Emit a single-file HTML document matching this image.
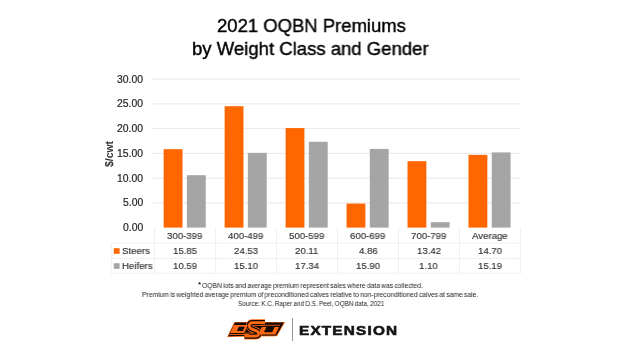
<!DOCTYPE html>
<html><head><meta charset="utf-8"><style>
html,body{margin:0;padding:0;background:#fff;}
body{width:625px;height:351px;position:relative;overflow:hidden;font-family:"Liberation Sans",sans-serif;color:#404040;}
.a{position:absolute;white-space:nowrap;}
.w{will-change:transform;}
#root{position:absolute;left:0;top:0;width:625px;height:351px;filter:blur(0.35px);}
</style></head><body><div id="root">
<svg class="a" style="left:0;top:0;" width="625" height="351" viewBox="0 0 625 351">
<rect x="152.3" y="202.35" width="368.10" height="1" fill="#e9e9e9"/>
<rect x="152.3" y="177.61" width="368.10" height="1" fill="#e9e9e9"/>
<rect x="152.3" y="152.87" width="368.10" height="1" fill="#e9e9e9"/>
<rect x="152.3" y="128.12" width="368.10" height="1" fill="#e9e9e9"/>
<rect x="152.3" y="103.38" width="368.10" height="1" fill="#e9e9e9"/>
<rect x="152.3" y="78.63" width="368.10" height="1" fill="#e9e9e9"/>
<rect x="163.65" y="149.16" width="18.85" height="78.44" fill="#FF6600"/>
<rect x="186.90" y="175.19" width="18.85" height="52.41" fill="#A5A5A5"/>
<rect x="224.62" y="106.20" width="18.85" height="121.40" fill="#FF6600"/>
<rect x="247.87" y="152.87" width="18.85" height="74.73" fill="#A5A5A5"/>
<rect x="285.58" y="128.08" width="18.85" height="99.52" fill="#FF6600"/>
<rect x="308.83" y="141.78" width="18.85" height="85.82" fill="#A5A5A5"/>
<rect x="346.55" y="203.55" width="18.85" height="24.05" fill="#FF6600"/>
<rect x="369.80" y="148.91" width="18.85" height="78.69" fill="#A5A5A5"/>
<rect x="407.52" y="161.18" width="18.85" height="66.42" fill="#FF6600"/>
<rect x="430.77" y="222.16" width="18.85" height="5.44" fill="#A5A5A5"/>
<rect x="468.48" y="154.85" width="18.85" height="72.75" fill="#FF6600"/>
<rect x="491.73" y="152.42" width="18.85" height="75.18" fill="#A5A5A5"/>
<rect x="111" y="242.60" width="409.40" height="1" fill="#efefef"/>
<rect x="111" y="257.90" width="409.40" height="1" fill="#efefef"/>
<rect x="111" y="272.70" width="409.40" height="1" fill="#efefef"/>
<rect x="110.8" y="243.10" width="1" height="30.10" fill="#efefef"/>
<rect x="154.10" y="227.60" width="1" height="45.60" fill="#efefef"/>
<rect x="215.07" y="227.60" width="1" height="45.60" fill="#efefef"/>
<rect x="276.03" y="227.60" width="1" height="45.60" fill="#efefef"/>
<rect x="337.00" y="227.60" width="1" height="45.60" fill="#efefef"/>
<rect x="397.97" y="227.60" width="1" height="45.60" fill="#efefef"/>
<rect x="458.93" y="227.60" width="1" height="45.60" fill="#efefef"/>
<rect x="519.90" y="227.60" width="1" height="45.60" fill="#efefef"/>
<rect x="113.8" y="248.2" width="5.8" height="5.6" fill="#FF6600"/>
<rect x="113.8" y="263.2" width="5.8" height="5.6" fill="#A5A5A5"/>
</svg>
<div class="a" style="left:109.7px;top:153.9px;width:0;height:0;"><div style="position:absolute;left:-20px;top:-7px;width:40px;text-align:center;line-height:14px;font-size:10.4px;font-weight:bold;color:#333;transform:rotate(-90deg);will-change:transform;">$/cwt</div></div>
<div class="a w" style="left:216.51px;top:14.77px;font-size:18.6px;line-height:normal;font-weight:normal;color:#000;transform-origin:0 0;transform:scaleX(0.9937);word-spacing:0.0px;letter-spacing:0.0px;-webkit-text-stroke:0.4px #000;">2021 OQBN Premiums</div>
<div class="a w" style="left:191.50px;top:37.57px;font-size:18.6px;line-height:normal;font-weight:normal;color:#000;transform-origin:0 0;transform:scaleX(0.9968);word-spacing:0.0px;letter-spacing:0.0px;-webkit-text-stroke:0.4px #000;">by Weight Class and Gender</div>
<div class="a w" style="left:123.14px;top:222.19px;font-size:10.4px;line-height:normal;font-weight:normal;color:#262626;transform-origin:0 0;transform:scaleX(1.0000);word-spacing:0.0px;letter-spacing:0.0px;-webkit-text-stroke:0.2px #262626;">0.00</div>
<div class="a w" style="left:123.14px;top:197.44px;font-size:10.4px;line-height:normal;font-weight:normal;color:#262626;transform-origin:0 0;transform:scaleX(1.0000);word-spacing:0.0px;letter-spacing:0.0px;-webkit-text-stroke:0.2px #262626;">5.00</div>
<div class="a w" style="left:117.36px;top:172.70px;font-size:10.4px;line-height:normal;font-weight:normal;color:#262626;transform-origin:0 0;transform:scaleX(1.0000);word-spacing:0.0px;letter-spacing:0.0px;-webkit-text-stroke:0.2px #262626;">10.00</div>
<div class="a w" style="left:117.36px;top:147.95px;font-size:10.4px;line-height:normal;font-weight:normal;color:#262626;transform-origin:0 0;transform:scaleX(1.0000);word-spacing:0.0px;letter-spacing:0.0px;-webkit-text-stroke:0.2px #262626;">15.00</div>
<div class="a w" style="left:117.36px;top:123.21px;font-size:10.4px;line-height:normal;font-weight:normal;color:#262626;transform-origin:0 0;transform:scaleX(1.0000);word-spacing:0.0px;letter-spacing:0.0px;-webkit-text-stroke:0.2px #262626;">20.00</div>
<div class="a w" style="left:117.36px;top:98.46px;font-size:10.4px;line-height:normal;font-weight:normal;color:#262626;transform-origin:0 0;transform:scaleX(1.0000);word-spacing:0.0px;letter-spacing:0.0px;-webkit-text-stroke:0.2px #262626;">25.00</div>
<div class="a w" style="left:117.36px;top:73.72px;font-size:10.4px;line-height:normal;font-weight:normal;color:#262626;transform-origin:0 0;transform:scaleX(1.0000);word-spacing:0.0px;letter-spacing:0.0px;-webkit-text-stroke:0.2px #262626;">30.00</div>
<div class="a w" style="left:167.09px;top:230.13px;font-size:9.8px;line-height:normal;font-weight:normal;color:#333;transform-origin:0 0;transform:scaleX(0.9825);word-spacing:0.0px;letter-spacing:0.0px;-webkit-text-stroke:0.15px #333;">300-399</div>
<div class="a w" style="left:172.86px;top:245.13px;font-size:9.8px;line-height:normal;font-weight:normal;color:#333;transform-origin:0 0;transform:scaleX(0.9825);word-spacing:0.0px;letter-spacing:0.0px;-webkit-text-stroke:0.15px #333;">15.85</div>
<div class="a w" style="left:172.91px;top:260.03px;font-size:9.8px;line-height:normal;font-weight:normal;color:#333;transform-origin:0 0;transform:scaleX(0.9825);word-spacing:0.0px;letter-spacing:0.0px;-webkit-text-stroke:0.15px #333;">10.59</div>
<div class="a w" style="left:228.10px;top:230.13px;font-size:9.8px;line-height:normal;font-weight:normal;color:#333;transform-origin:0 0;transform:scaleX(0.9825);word-spacing:0.0px;letter-spacing:0.0px;-webkit-text-stroke:0.15px #333;">400-499</div>
<div class="a w" style="left:233.98px;top:245.13px;font-size:9.8px;line-height:normal;font-weight:normal;color:#333;transform-origin:0 0;transform:scaleX(0.9825);word-spacing:0.0px;letter-spacing:0.0px;-webkit-text-stroke:0.15px #333;">24.53</div>
<div class="a w" style="left:233.83px;top:260.03px;font-size:9.8px;line-height:normal;font-weight:normal;color:#333;transform-origin:0 0;transform:scaleX(0.9825);word-spacing:0.0px;letter-spacing:0.0px;-webkit-text-stroke:0.15px #333;">15.10</div>
<div class="a w" style="left:289.02px;top:230.13px;font-size:9.8px;line-height:normal;font-weight:normal;color:#333;transform-origin:0 0;transform:scaleX(0.9825);word-spacing:0.0px;letter-spacing:0.0px;-webkit-text-stroke:0.15px #333;">500-599</div>
<div class="a w" style="left:295.35px;top:245.13px;font-size:9.8px;line-height:normal;font-weight:normal;color:#333;transform-origin:0 0;transform:scaleX(0.9825);word-spacing:0.0px;letter-spacing:0.0px;-webkit-text-stroke:0.15px #333;">20.11</div>
<div class="a w" style="left:294.75px;top:260.03px;font-size:9.8px;line-height:normal;font-weight:normal;color:#333;transform-origin:0 0;transform:scaleX(0.9825);word-spacing:0.0px;letter-spacing:0.0px;-webkit-text-stroke:0.15px #333;">17.34</div>
<div class="a w" style="left:349.94px;top:230.13px;font-size:9.8px;line-height:normal;font-weight:normal;color:#333;transform-origin:0 0;transform:scaleX(0.9825);word-spacing:0.0px;letter-spacing:0.0px;-webkit-text-stroke:0.15px #333;">600-699</div>
<div class="a w" style="left:358.69px;top:245.13px;font-size:9.8px;line-height:normal;font-weight:normal;color:#333;transform-origin:0 0;transform:scaleX(0.9825);word-spacing:0.0px;letter-spacing:0.0px;-webkit-text-stroke:0.15px #333;">4.86</div>
<div class="a w" style="left:355.76px;top:260.03px;font-size:9.8px;line-height:normal;font-weight:normal;color:#333;transform-origin:0 0;transform:scaleX(0.9825);word-spacing:0.0px;letter-spacing:0.0px;-webkit-text-stroke:0.15px #333;">15.90</div>
<div class="a w" style="left:410.86px;top:230.13px;font-size:9.8px;line-height:normal;font-weight:normal;color:#333;transform-origin:0 0;transform:scaleX(0.9825);word-spacing:0.0px;letter-spacing:0.0px;-webkit-text-stroke:0.15px #333;">700-799</div>
<div class="a w" style="left:416.78px;top:245.13px;font-size:9.8px;line-height:normal;font-weight:normal;color:#333;transform-origin:0 0;transform:scaleX(0.9825);word-spacing:0.0px;letter-spacing:0.0px;-webkit-text-stroke:0.15px #333;">13.42</div>
<div class="a w" style="left:419.41px;top:260.03px;font-size:9.8px;line-height:normal;font-weight:normal;color:#333;transform-origin:0 0;transform:scaleX(0.9825);word-spacing:0.0px;letter-spacing:0.0px;-webkit-text-stroke:0.15px #333;">1.10</div>
<div class="a w" style="left:471.84px;top:230.13px;font-size:9.8px;line-height:normal;font-weight:normal;color:#333;transform-origin:0 0;transform:scaleX(0.9825);word-spacing:0.0px;letter-spacing:0.0px;-webkit-text-stroke:0.15px #333;">Average</div>
<div class="a w" style="left:477.70px;top:245.13px;font-size:9.8px;line-height:normal;font-weight:normal;color:#333;transform-origin:0 0;transform:scaleX(0.9825);word-spacing:0.0px;letter-spacing:0.0px;-webkit-text-stroke:0.15px #333;">14.70</div>
<div class="a w" style="left:477.75px;top:260.03px;font-size:9.8px;line-height:normal;font-weight:normal;color:#333;transform-origin:0 0;transform:scaleX(0.9825);word-spacing:0.0px;letter-spacing:0.0px;-webkit-text-stroke:0.15px #333;">15.19</div>
<div class="a w" style="left:122.21px;top:245.13px;font-size:9.8px;line-height:normal;font-weight:normal;color:#333;transform-origin:0 0;transform:scaleX(0.9825);word-spacing:0.0px;letter-spacing:0.0px;-webkit-text-stroke:0.15px #333;">Steers</div>
<div class="a w" style="left:122.01px;top:259.83px;font-size:9.8px;line-height:normal;font-weight:normal;color:#333;transform-origin:0 0;transform:scaleX(0.9825);word-spacing:0.0px;letter-spacing:0.0px;-webkit-text-stroke:0.15px #333;">Heifers</div>
<div class="a w" style="left:201.72px;top:281.48px;font-size:7.2px;line-height:normal;font-weight:normal;color:#1a1a1a;transform-origin:0 0;transform:scaleX(0.9354);word-spacing:-0.6px;letter-spacing:0.0px;">OQBN lots and average premium represent sales where data was collected.</div>
<div class="a w" style="left:198.00px;top:280.26px;font-size:8.0px;line-height:normal;font-weight:bold;color:#1a1a1a;transform-origin:0 0;transform:scaleX(1.0000);word-spacing:0.0px;letter-spacing:0.0px;">*</div>
<div class="a w" style="left:141.83px;top:290.38px;font-size:7.2px;line-height:normal;font-weight:normal;color:#1a1a1a;transform-origin:0 0;transform:scaleX(0.9351);word-spacing:-0.6px;letter-spacing:0.0px;">Premium is weighted average premium of preconditioned calves relative to non-preconditioned calves at same sale.</div>
<div class="a w" style="left:237.53px;top:299.28px;font-size:7.2px;line-height:normal;font-weight:normal;color:#1a1a1a;transform-origin:0 0;transform:scaleX(0.8865);word-spacing:-0.6px;letter-spacing:0.0px;">Source: K.C. Raper and D.S. Peel, OQBN data, 2021</div>
<div class="a w" style="left:299.36px;top:323.04px;font-size:13.0px;line-height:normal;font-weight:bold;color:#141414;transform-origin:0 0;transform:scaleX(1.1798);word-spacing:0.0px;letter-spacing:1.0px;-webkit-text-stroke:0.6px #141414;">EXTENSION</div>
<svg class="a" style="left:224px;top:316px;" width="64" height="28" viewBox="0 0 64 28">
<polygon points="10.3,5.9 61.1,5.9 53.0,20.2 3.1,21" fill="#FF6A13"/>
<polygon points="11,6.6 60,6.6 52.4,19.5 4.2,20.3" fill="#170a02"/>
<path d="M41 6.6 L29 6.6 Q25.6 6.6 25.3 9.4 Q25.1 11.9 28 13.1 L32.4 14.9 Q35 16 34.6 18.2 Q34.2 20.1 31 20.1 L20.5 20.1" fill="none" stroke="#FF6A13" stroke-width="6.8" stroke-linejoin="round"/>
<path d="M41 6.6 L29 6.6 Q25.6 6.6 25.3 9.4 Q25.1 11.9 28 13.1 L32.4 14.9 Q35 16 34.6 18.2 Q34.2 20.1 31 20.1 L20.5 20.1" fill="none" stroke="#170a02" stroke-width="5.4" stroke-linejoin="round"/>
<polygon points="10.00,9.00 24.00,9.00 20.24,17.00 6.24,17.00" fill="#FF6A13"/>
<polygon points="14.80,10.80 20.80,10.80 18.83,15.00 12.83,15.00" fill="#170a02"/>
<rect x="5.6" y="18.0" width="19.4" height="0.9" fill="#FF6A13"/>
<polygon points="37.80,11.00 55.00,11.00 51.52,18.40 34.32,18.40" fill="#FF6A13"/>
<polygon points="42.40,11.00 50.60,11.00 48.16,16.20 39.96,16.20" fill="#170a02"/>
<rect x="36" y="8.8" width="20" height="0.8" fill="#FF6A13"/>
<path d="M41 6.6 L29 6.6 Q25.6 6.6 25.3 9.4 Q25.1 11.9 28 13.1 L32.4 14.9 Q35 16 34.6 18.2 Q34.2 20.1 31 20.1 L20.5 20.1" fill="none" stroke="#FF6A13" stroke-width="2.8" stroke-linejoin="round"/>
</svg>
<div class="a" style="left:291.8px;top:318px;width:1px;height:23px;background:#999;"></div>
</div></body></html>
